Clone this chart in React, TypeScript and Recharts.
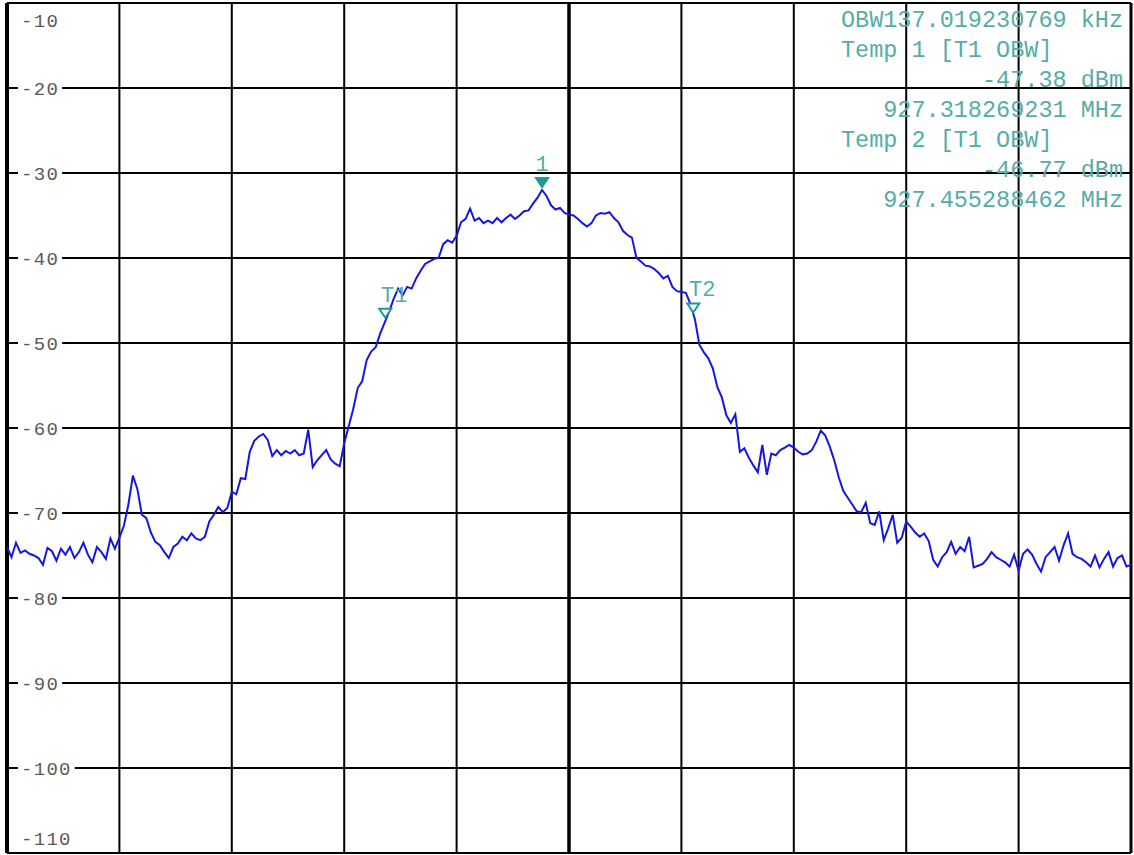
import { LineChart, Line, XAxis, YAxis, CartesianGrid, ReferenceLine, ReferenceDot } from 'recharts';

// sweep: 927.15 .. 927.65 MHz, 2 kHz per point, 25 points per division
const START_MHZ = 927.15;
const STEP_MHZ = 0.002;

const div0 = [-74.0, -75.2, -73.5, -74.7, -74.4, -74.8, -75.0, -75.3, -76.1, -74.1, -74.5, -75.6, -74.2, -74.9, -74.0, -75.3, -74.6, -73.5, -74.9, -75.8, -74.0, -74.6, -75.4, -73.0, -74.2];
const div1 = [-72.9, -71.5, -69.0, -65.6, -67.2, -70.2, -70.6, -72.3, -73.4, -73.8, -74.6, -75.3, -74.0, -73.6, -72.8, -73.2, -72.4, -73.0, -73.2, -72.8, -71.0, -70.2, -69.3, -69.9, -69.4];
const div2 = [-67.5, -67.8, -65.9, -66.0, -62.8, -61.5, -61.0, -60.7, -61.4, -63.3, -62.6, -63.2, -62.7, -63.0, -62.6, -63.2, -63.0, -60.2, -64.6, -63.8, -63.2, -62.6, -63.7, -64.2, -64.5];
const div3 = [-61.8, -59.8, -57.8, -55.3, -54.5, -52.0, -51.0, -50.5, -48.9, -47.6, -46.3, -44.8, -43.6, -44.4, -43.4, -43.6, -42.4, -41.5, -40.7, -40.4, -40.1, -40.0, -38.4, -37.9, -38.2];
const div4 = [-37.4, -35.8, -35.4, -34.2, -35.6, -35.3, -35.9, -35.6, -35.9, -35.3, -35.8, -35.3, -34.9, -35.4, -35.0, -34.5, -34.4, -33.6, -32.9, -32.0, -32.7, -33.8, -34.3, -34.1, -34.7];
const div5 = [-34.9, -35.0, -35.4, -35.9, -36.3, -35.9, -35.0, -34.7, -34.8, -34.6, -35.3, -35.8, -36.8, -37.3, -37.6, -40.0, -40.4, -40.9, -41.0, -41.3, -41.8, -42.4, -42.1, -43.4, -43.9];
const div6 = [-44.0, -44.1, -45.4, -47.2, -50.2, -51.1, -51.8, -53.0, -55.2, -56.4, -58.5, -59.4, -58.4, -62.8, -62.4, -63.5, -64.4, -65.2, -62.0, -65.5, -63.0, -63.2, -62.6, -62.3, -62.0];
const div7 = [-62.3, -62.8, -63.1, -63.0, -62.6, -61.6, -60.3, -60.9, -62.2, -63.8, -65.8, -67.4, -68.2, -69.0, -69.8, -69.9, -68.8, -71.2, -71.4, -69.8, -73.2, -71.8, -70.2, -73.5, -72.9];
const div8 = [-71.0, -71.6, -72.3, -72.8, -72.4, -73.3, -75.5, -76.3, -75.2, -74.6, -73.4, -74.8, -74.0, -74.5, -72.8, -76.4, -76.2, -76.0, -75.4, -74.6, -75.2, -75.5, -75.8, -76.3, -74.9];
const div9 = [-76.8, -74.8, -74.3, -74.9, -76.0, -76.9, -75.2, -74.6, -74.0, -75.6, -73.8, -72.4, -74.8, -75.2, -75.4, -75.8, -76.3, -75.0, -76.4, -75.4, -74.6, -76.3, -75.3, -75.0, -76.3];
const lastPoint = [-76.1];

const freqTicks = [927.15, 927.2, 927.25, 927.3, 927.35, 927.4, 927.45, 927.5, 927.55, 927.6, 927.65];
const levelTicks = [-10, -20, -30, -40, -50, -60, -70, -80, -90, -100, -110];

const markerNames = ['1', 'T1', 'T2'];
const markerFreqs = [927.388, 927.318269231, 927.455288462];
const markerLevels = [-32.0, -47.38, -46.77];

const infoLines = [
  'OBW137.019230769 kHz',
  'Temp 1 [T1 OBW]     ',
  '-47.38 dBm',
  '927.318269231 MHz',
  'Temp 2 [T1 OBW]     ',
  '-46.77 dBm',
  '927.455288462 MHz',
];

const levels = [...div0, ...div1, ...div2, ...div3, ...div4, ...div5, ...div6, ...div7, ...div8, ...div9, ...lastPoint];
const trace = levels.map((v, i) => ({ f: Math.round((START_MHZ + i * STEP_MHZ) * 1e6) / 1e6, v }));

const MONO = '"Liberation Mono", "DejaVu Sans Mono", monospace';
const TEAL = '#55ada8';
const LABEL_X = 21;

const LevelTick = (props: any) => {
  const { y, payload } = props;
  const label = String(payload.value);
  let ty = y;
  if (payload.value === -10) ty = y + 17;
  if (payload.value === -110) ty = y - 15;
  const w = label.length * 12.7 + 6;
  return (
    <g>
      <rect x={LABEL_X - 3} y={ty - 9} width={w} height={18} fill="#fff" />
      <text
        x={LABEL_X}
        y={ty}
        dy="0.36em"
        fontFamily={MONO}
        fontSize={19}
        letterSpacing={1.3}
        fill="#5a5a5a"
        textAnchor="start"
      >
        {label}
      </text>
    </g>
  );
};

const makeMarker = (name: string) => (props: any) => {
  const { cx, cy } = props;
  const filled = name === '1';
  return (
    <g>
      <polygon
        points={`${cx - 6},${cy - 12} ${cx + 6},${cy - 12} ${cx},${cy - 3}`}
        fill={filled ? '#1e9a94' : '#fff'}
        stroke="#1e9a94"
        strokeWidth={2}
      />
      <text x={filled ? cx : cx + 9} y={cy - 27} dy="0.36em" textAnchor="middle" fontFamily={MONO} fontSize={22} fill={TEAL}>
        {name}
      </text>
    </g>
  );
};

export default function App() {
  return (
    <div style={{ position: 'absolute', left: 0, top: 0, width: 1134, height: 855, background: '#fff' }}>
      <LineChart width={1134} height={855} data={trace} margin={{ top: 3, right: 3, bottom: 2, left: 7 }}>
        <CartesianGrid stroke="#000" strokeWidth={2} strokeOpacity={1} />
        <XAxis dataKey="f" type="number" domain={[927.15, 927.65]} ticks={freqTicks} allowDataOverflow hide />
        <YAxis
          type="number"
          domain={[-110, -10]}
          ticks={levelTicks}
          interval={0}
          allowDataOverflow
          mirror
          axisLine={false}
          tickLine={false}
          tickSize={0}
          tickMargin={0}
          tick={<LevelTick />}
        />
        <ReferenceLine x={927.15} stroke="#000" strokeWidth={4} />
        <ReferenceLine x={927.4} stroke="#000" strokeWidth={3.5} />
        <ReferenceLine x={927.65} stroke="#000" strokeWidth={3} />
        <Line type="linear" dataKey="v" stroke="#1616e4" strokeWidth={2} dot={false} isAnimationActive={false} />
        {markerNames.map((name, i) => (
          <ReferenceDot key={name} x={markerFreqs[i]} y={markerLevels[i]} r={0} shape={makeMarker(name)} />
        ))}
      </LineChart>
      <div
        style={{
          position: 'absolute',
          right: 11,
          top: 6,
          textAlign: 'right',
          whiteSpace: 'pre',
          fontFamily: MONO,
          fontSize: 23.5,
          lineHeight: '30px',
          color: TEAL,
        }}
      >
        {infoLines.map((line) => (
          <div key={line}>{line}</div>
        ))}
      </div>
    </div>
  );
}
